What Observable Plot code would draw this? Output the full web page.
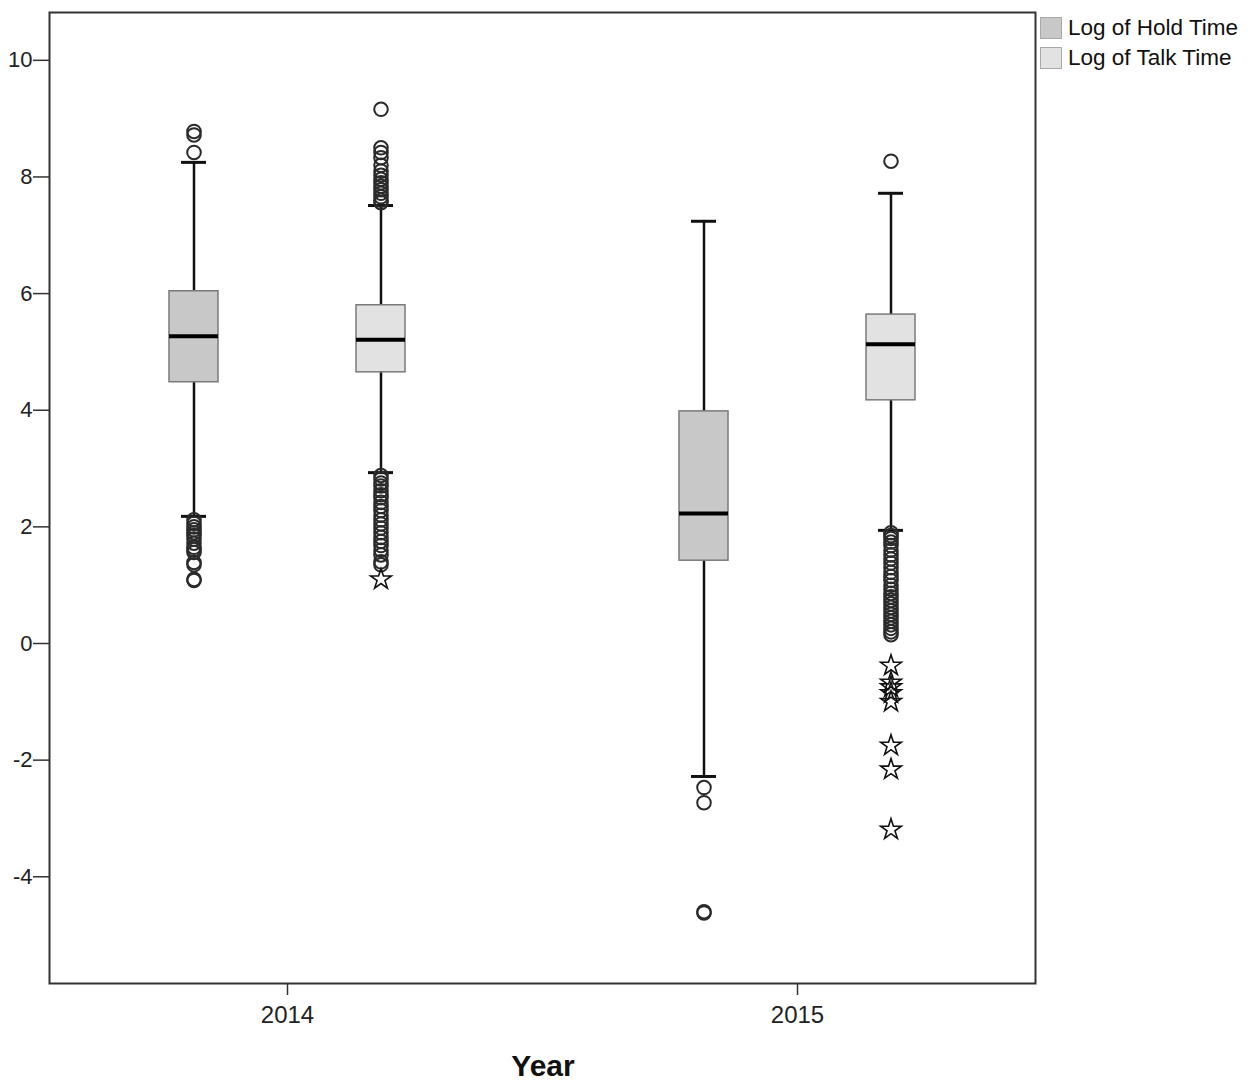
<!DOCTYPE html>
<html>
<head>
<meta charset="utf-8">
<script src="https://cdn.jsdelivr.net/npm/d3@7"></script>
<script src="https://cdn.jsdelivr.net/npm/@observablehq/plot@0.6"></script>
<style>
  body { margin: 0; background: #fff; font-family: "Liberation Sans", Arial, sans-serif; }
  #wrap { position: relative; width: 1257px; height: 1082px; }
  #legend { position: absolute; left: 1040px; top: 13px; font-size: 22.5px; color: #111; }
  .item { display: flex; align-items: center; height: 30px; }
  .sw { width: 22px; height: 22px; margin-right: 6px; box-sizing: border-box; border: 1px solid #a8a8a8; }
  #xtitle { position: absolute; left: 0; width: 1086px; top: 1049px; text-align: center; font-size: 30px; font-weight: bold; color: #111; }
</style>
</head>
<body>
<div id="wrap">
  <div id="chart"></div>
  <div id="legend"></div>
  <div id="xtitle">Year</div>
</div>
<script>
// ---- data ----
const years       = [2014, 2014, 2015, 2015];
const series      = ["Log of Hold Time", "Log of Talk Time", "Log of Hold Time", "Log of Talk Time"];
const q1          = [4.48, 4.65, 1.42, 4.17];
const medians     = [5.27, 5.21, 2.23, 5.13];
const q3          = [6.04, 5.80, 3.98, 5.64];
const whiskerLow  = [2.18, 2.93, -2.28, 1.94];
const whiskerHigh = [8.25, 7.51, 7.24, 7.72];

// outliers (circles) per group
const outHold2014 = [8.78, 8.72, 8.42, 2.12, 2.06, 2.0, 1.95, 1.9, 1.85, 1.79, 1.72, 1.65, 1.61, 1.56, 1.39, 1.35, 1.10, 1.08];
const outTalk2014 = [9.16, 8.50, 8.42, 8.33, 8.20, 8.10, 8.03, 7.96, 7.90, 7.84, 7.78, 7.72, 7.66, 7.60, 7.56,
                     2.88, 2.82, 2.75, 2.70, 2.62, 2.55, 2.50, 2.42, 2.35, 2.28, 2.20, 2.12, 2.05, 1.98, 1.90,
                     1.82, 1.75, 1.68, 1.60, 1.52, 1.40, 1.35];
const outHold2015 = [-2.47, -2.73, -4.60, -4.62];
const outTalk2015 = [8.27, 1.90, 1.85, 1.80, 1.74, 1.68, 1.60, 1.52, 1.45, 1.38, 1.30, 1.22, 1.15, 1.08, 1.00,
                     0.93, 0.86, 0.80, 0.74, 0.68, 0.62, 0.56, 0.50, 0.44, 0.38, 0.32, 0.26, 0.20, 0.15];
// extremes (stars) per group
const extTalk2014 = [1.10];
const extTalk2015 = [-0.38, -0.67, -0.75, -0.85, -1.00, -1.75, -2.16, -3.19];

const seriesNames = ["Log of Hold Time", "Log of Talk Time"];
const yTicks = [10, 8, 6, 4, 2, 0, -2, -4];

// ---- tables built from the arrays ----
const boxes = years.map((y, i) => ({
  year: y, series: series[i], q1: q1[i], median: medians[i], q3: q3[i],
  lo: whiskerLow[i], hi: whiskerHigh[i]
}));
const mk = (arr, year, s) => arr.map(v => ({year, series: s, value: v}));
const circles = [
  ...mk(outHold2014, 2014, seriesNames[0]), ...mk(outTalk2014, 2014, seriesNames[1]),
  ...mk(outHold2015, 2015, seriesNames[0]), ...mk(outTalk2015, 2015, seriesNames[1])
];
const stars = [...mk(extTalk2014, 2014, seriesNames[1]), ...mk(extTalk2015, 2015, seriesNames[1])];

const fillRange = ["#c8c8c8", "#e2e2e2"];

const chart = Plot.plot({
  width: 1257,
  height: 1040,
  marginTop: 12,
  marginBottom: 57,
  marginLeft: 49,
  marginRight: 222,
  style: { fontFamily: "'Liberation Sans', Arial, sans-serif", fontSize: "22px", color: "#222", background: "#fff" },
  fx: { domain: [2014, 2015], paddingInner: 0.067, paddingOuter: 0 },
  x: { domain: seriesNames, paddingInner: 0.74, paddingOuter: 0.636, axis: null },
  y: { domain: [-5.83, 10.82] },
  color: { domain: seriesNames, range: fillRange },
  marks: [
    Plot.axisY({ ticks: yTicks, tickSize: 16, tickPadding: 1, fontSize: 22, label: null, stroke: "#333", strokeWidth: 1.5, tickFormat: d => String(d) }),
    Plot.axisFx({ anchor: "bottom", tickSize: 12, tickPadding: 10, fontSize: 24, label: null, stroke: "#333", strokeWidth: 1.5, tickFormat: d => String(d) }),
    Plot.ruleX(boxes, { fx: "year", x: "series", y1: "lo", y2: "hi", stroke: "#111", strokeWidth: 2.5 }),
    Plot.tickY(boxes, { fx: "year", x: "series", y: "lo", stroke: "#111", strokeWidth: 3, insetLeft: 12, insetRight: 12 }),
    Plot.tickY(boxes, { fx: "year", x: "series", y: "hi", stroke: "#111", strokeWidth: 3, insetLeft: 12, insetRight: 12 }),
    Plot.barY(boxes, { fx: "year", x: "series", y1: "q1", y2: "q3", fill: "series", stroke: "#7a7a7a", strokeWidth: 1.5 }),
    Plot.tickY(boxes, { fx: "year", x: "series", y: "median", stroke: "#000", strokeWidth: 4 }),
    Plot.dot(circles, { fx: "year", x: "series", y: "value", r: 6.8, stroke: "#2a2a2a", strokeWidth: 2, fill: "none" }),
    Plot.dot(stars, { fx: "year", x: "series", y: "value", symbol: "star", r: 6.5, stroke: "#111", strokeWidth: 1.6, fill: "none" }),
    Plot.frame({ facet: "super", stroke: "#333", strokeWidth: 2 })
  ]
});
document.getElementById("chart").appendChild(chart);

// legend
const legend = document.getElementById("legend");
seriesNames.forEach((s, i) => {
  const item = document.createElement("div");
  item.className = "item";
  const sw = document.createElement("div");
  sw.className = "sw";
  sw.style.background = fillRange[i];
  const t = document.createElement("span");
  t.textContent = s;
  item.appendChild(sw); item.appendChild(t);
  legend.appendChild(item);
});
</script>
</body>
</html>
